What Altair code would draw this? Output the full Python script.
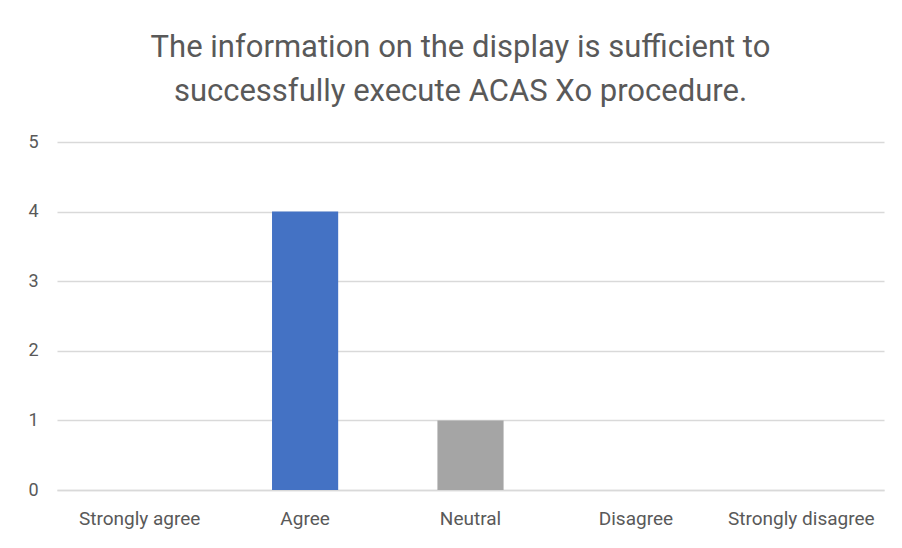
import altair as alt
import pandas as pd

categories = ["Strongly agree", "Agree", "Neutral", "Disagree", "Strongly disagree"]
counts = [0, 4, 1, 0, 0]
bar_colors = ["#4472C4", "#4472C4", "#A5A5A5", "#A5A5A5", "#A5A5A5"]
title_lines = ["The information on the display is sufficient to",
               "successfully execute ACAS Xo procedure."]
y_ticks = [0, 1, 2, 3, 4, 5]

df = pd.DataFrame({"category": categories, "count": counts})

FONT = "Roboto, sans-serif"
TEXT = "#595959"

chart = alt.Chart(df).mark_bar().encode(
    x=alt.X("category:N", sort=categories,
            scale=alt.Scale(paddingInner=0.6, paddingOuter=0.3),
            axis=alt.Axis(title=None, labelAngle=0, labelFontSize=19, labelColor=TEXT,
                          labelFont=FONT, labelPadding=19, ticks=False,
                          domainColor="#d9d9d9", domainWidth=1.5)),
    y=alt.Y("count:Q", scale=alt.Scale(domain=[0, 5]),
            axis=alt.Axis(title=None, values=y_ticks, labelFontSize=18, labelColor=TEXT,
                          labelFont=FONT, labelPadding=19, ticks=False, domain=False,
                          gridColor="#d9d9d9", gridWidth=1.5)),
    color=alt.Color("category:N", scale=alt.Scale(domain=categories, range=bar_colors),
                    legend=None),
).properties(
    width=827, height=348,
    title=alt.TitleParams(title_lines, anchor="middle", frame="group", fontSize=31,
                          lineHeight=44, offset=25, color=TEXT, font=FONT,
                          fontWeight="normal", dx=-10),
    autosize=alt.AutoSizeParams(type="none"),
    padding={"left": 49, "top": 134, "right": 10, "bottom": 50},
).configure_view(stroke=None)

chart.save("out.html", embed_options={"renderer": "svg", "actions": False})
